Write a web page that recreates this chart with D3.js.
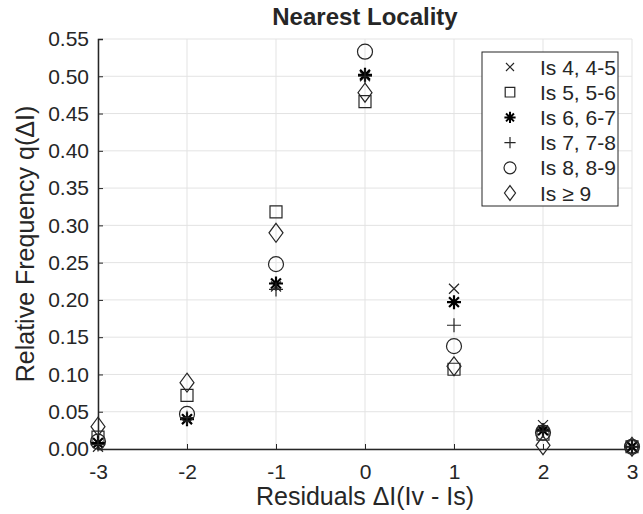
<!DOCTYPE html>
<html>
<head>
<meta charset="utf-8">
<script src="https://cdn.jsdelivr.net/npm/d3@7"></script>
<style>
  body { margin: 0; background: #fff; }
  text { font-family: "Liberation Sans", Arial, sans-serif; fill: #262626; }
</style>
</head>
<body>
<div class="chart"></div>
<script>
const residuals = [-3, -2, -1, 0, 1, 2, 3];
const seriesNames = ['Is 4, 4-5', 'Is 5, 5-6', 'Is 6, 6-7', 'Is 7, 7-8', 'Is 8, 8-9', 'Is \u2265 9'];
const seriesMarkers = ['x', 'square', 'star', 'plus', 'circle', 'diamond'];
const is45 = [0.003, 0.040, 0.218, 0.500, 0.215, 0.032, 0.003];
const is56 = [0.016, 0.072, 0.318, 0.466, 0.107, 0.020, 0.003];
const is67 = [0.008, 0.040, 0.222, 0.502, 0.197, 0.025, 0.003];
const is78 = [0.006, 0.042, 0.214, 0.500, 0.166, 0.024, 0.003];
const is89 = [0.010, 0.047, 0.248, 0.533, 0.138, 0.022, 0.003];
const is9 = [0.030, 0.089, 0.290, 0.478, 0.111, 0.005, 0.003];
const seriesValues = [is45, is56, is67, is78, is89, is9];
const yTicks = d3.range(0, 12).map(i => i * 0.05);

const width = 643, height = 514;
const margin = { left: 98, right: 11, top: 39, bottom: 65 };

const svg = d3.select('.chart').append('svg')
  .attr('width', width)
  .attr('height', height);

const x = d3.scaleLinear().domain([-3, 3]).range([margin.left, width - margin.right]);
const y = d3.scaleLinear().domain([0, 0.55]).range([height - margin.bottom, margin.top]);

// grid
const grid = svg.append('g').attr('stroke', '#e3e3e3').attr('stroke-width', 1);
grid.selectAll('.gx').data(residuals).enter().append('line')
  .attr('x1', d => x(d)).attr('x2', d => x(d))
  .attr('y1', y(0)).attr('y2', y(0.55));
grid.selectAll('.gy').data(yTicks).enter().append('line')
  .attr('x1', x(-3)).attr('x2', x(3))
  .attr('y1', d => y(d)).attr('y2', d => y(d));

// axes
const xAxis = svg.append('g')
  .attr('transform', `translate(0,${y(0)})`)
  .call(d3.axisBottom(x).tickValues(residuals).tickSize(-5).tickPadding(15).tickFormat(d => String(d)));
const yAxis = svg.append('g')
  .attr('transform', `translate(${x(-3)},0)`)
  .call(d3.axisLeft(y).tickValues(yTicks).tickSize(-5).tickPadding(9).tickFormat(d3.format('.2f')));
[xAxis, yAxis].forEach(a => {
  a.select('.domain').attr('stroke', '#262626').attr('stroke-width', 1.5);
  a.selectAll('.tick line').attr('stroke', '#262626');
  a.selectAll('.tick text').style('font-size', '21px').attr('fill', '#262626');
});

// markers
const mSize = { x: 5, square: 6, star: 7, plus: 7, circle: 7.5, diamond: 7 };
function markerPath(type, cx, cy) {
  const p = d3.path();
  const s = mSize[type];
  if (type === 'x') {
    p.moveTo(cx - s, cy - s); p.lineTo(cx + s, cy + s);
    p.moveTo(cx - s, cy + s); p.lineTo(cx + s, cy - s);
  } else if (type === 'square') {
    p.rect(cx - s, cy - s, 2 * s, 2 * s);
  } else if (type === 'plus') {
    p.moveTo(cx - s, cy); p.lineTo(cx + s, cy);
    p.moveTo(cx, cy - s); p.lineTo(cx, cy + s);
  } else if (type === 'star') {
    for (let k = 0; k < 4; k++) {
      const a = k * Math.PI / 4;
      p.moveTo(cx - s * Math.sin(a), cy - s * Math.cos(a));
      p.lineTo(cx + s * Math.sin(a), cy + s * Math.cos(a));
    }
  } else if (type === 'circle') {
    p.moveTo(cx + s, cy); p.arc(cx, cy, s, 0, 2 * Math.PI);
  } else if (type === 'diamond') {
    p.moveTo(cx, cy - s * 1.35); p.lineTo(cx + s, cy);
    p.lineTo(cx, cy + s * 1.35); p.lineTo(cx - s, cy); p.closePath();
  }
  return p.toString();
}

const marks = svg.append('g');
seriesValues.forEach((vals, si) => {
  const type = seriesMarkers[si];
  marks.append('g').selectAll('path')
    .data(vals)
    .enter()
    .append('path')
    .attr('d', (d, i) => markerPath(type, x(residuals[i]), y(d)))
    .attr('fill', 'none')
    .attr('stroke', type === 'star' ? '#000' : '#262626')
    .attr('stroke-width', type === 'star' ? 2.2 : 1.2);
});

// legend
const legend = svg.append('g').attr('transform', 'translate(482,52)');
legend.append('rect')
  .attr('width', 136).attr('height', 154)
  .attr('fill', '#fff').attr('stroke', '#262626').attr('stroke-width', 1);
seriesNames.forEach((name, i) => {
  const ly = 15 + i * 25.2;
  const type = seriesMarkers[i];
  const ms = mSize[type];
  mSize[type] = type === 'diamond' ? 5.5 : type === 'circle' ? 6 : ms * 0.8;
  legend.append('path')
    .attr('d', markerPath(type, 28, ly))
    .attr('fill', 'none')
    .attr('stroke', type === 'star' ? '#000' : '#262626')
    .attr('stroke-width', type === 'star' ? 2 : 1.2);
  mSize[type] = ms;
  legend.append('text')
    .attr('x', 58).attr('y', ly)
    .attr('dy', '0.36em')
    .style('font-size', '21px')
    .text(name);
});

// titles
svg.append('text')
  .attr('x', (x(-3) + x(3)) / 2).attr('y', 25)
  .attr('text-anchor', 'middle')
  .style('font-size', '24px').style('font-weight', 'bold')
  .attr('fill', '#000')
  .text('Nearest Locality');
svg.append('text')
  .attr('x', (x(-3) + x(3)) / 2).attr('y', 505)
  .attr('text-anchor', 'middle')
  .style('font-size', '25px')
  .text('Residuals \u0394I(Iv - Is)');
svg.append('text')
  .attr('transform', `translate(34,${(y(0) + y(0.55)) / 2}) rotate(-90)`)
  .attr('text-anchor', 'middle')
  .style('font-size', '25px')
  .text('Relative Frequency q(\u0394I)');
</script>
</body>
</html>
